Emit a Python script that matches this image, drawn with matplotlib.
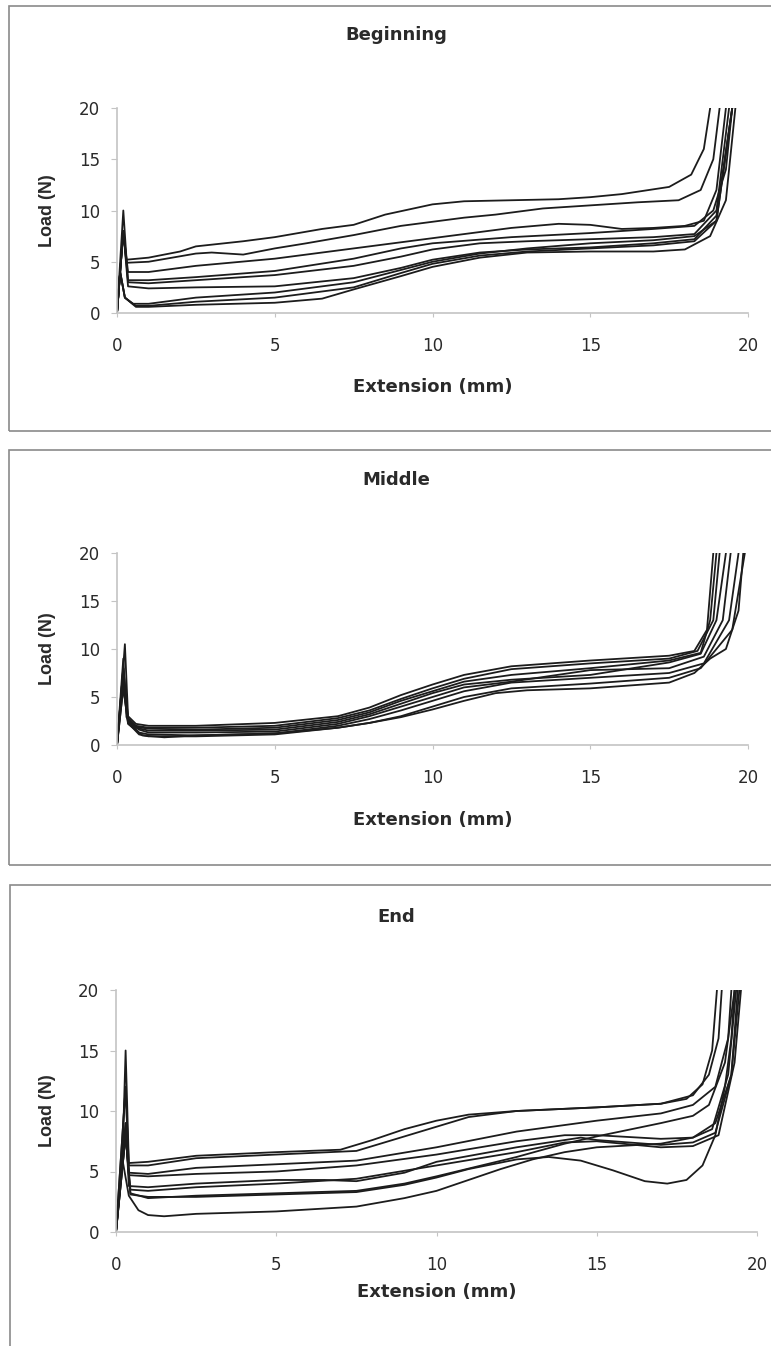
import matplotlib
matplotlib.use('Agg')
import matplotlib.pyplot as plt
from matplotlib.patches import Rectangle

plt.rcParams['font.family'] = ['DejaVu Sans']

# ---- Beginning: load (N) vs extension (mm), one test per curve ----
b1_x = [0, 0.2, 0.3, 1, 2, 2.5, 4, 5, 6.5, 7.5, 8.5, 10, 11, 12.5, 14, 15, 16, 17.5, 18.2, 18.6, 18.8]
b1_y = [0, 8, 5.2, 5.4, 6.0, 6.5, 7.0, 7.4, 8.2, 8.6, 9.6, 10.6, 10.9, 11.0, 11.1, 11.3, 11.6, 12.3, 13.5, 16, 20]
b2_x = [0, 0.2, 0.3, 1, 2.5, 3, 4, 5, 6, 7.5, 9, 10, 11, 12, 13.5, 15, 16.5, 17.8, 18.5, 18.9, 19.1]
b2_y = [0, 8, 4.9, 5.0, 5.8, 5.9, 5.7, 6.3, 6.8, 7.6, 8.5, 8.9, 9.3, 9.6, 10.2, 10.5, 10.8, 11.0, 12, 15, 20]
b3_x = [0, 0.2, 0.35, 1, 2.5, 5, 7.5, 10, 11, 12.5, 14, 15, 16, 17, 18, 18.6, 19, 19.3]
b3_y = [0, 8, 4.0, 4.0, 4.6, 5.3, 6.3, 7.3, 7.7, 8.3, 8.7, 8.6, 8.2, 8.3, 8.5, 9, 12, 20]
b4_x = [0, 0.2, 0.35, 1, 2.5, 5, 7.5, 9, 10, 12.5, 15, 17, 18.3, 18.9, 19.3, 19.5]
b4_y = [0, 8, 3.2, 3.2, 3.5, 4.1, 5.3, 6.3, 6.8, 7.4, 7.8, 8.2, 8.5, 10, 14, 20]
b5_x = [0, 0.2, 0.35, 1, 2.5, 5, 7.5, 9, 10, 11.5, 13, 15, 17, 18.3, 19, 19.4]
b5_y = [0, 10, 3.0, 2.9, 3.2, 3.7, 4.6, 5.5, 6.2, 6.8, 7.0, 7.2, 7.4, 7.7, 10, 20]
b6_x = [0, 0.2, 0.35, 1, 2.5, 5, 7.5, 9, 10, 11.5, 13, 15, 17, 18.3, 19, 19.5]
b6_y = [0, 8, 2.6, 2.4, 2.5, 2.6, 3.4, 4.4, 5.2, 5.9, 6.2, 6.4, 6.8, 7.2, 9.5, 20]
b7_x = [0, 0.1, 0.25, 0.5, 1, 2.5, 5, 7.5, 9, 10, 11.5, 13, 15, 17, 18.3, 19, 19.5]
b7_y = [0, 4, 1.5, 0.9, 0.9, 1.5, 2.0, 3.0, 4.2, 5.0, 5.8, 6.3, 6.8, 7.1, 7.5, 9, 20]
b8_x = [0, 0.1, 0.25, 0.6, 1, 2.5, 5, 6.5, 7.5, 9, 10, 11.5, 13, 15, 17, 18, 18.8, 19.3, 19.6]
b8_y = [0, 4, 1.5, 0.6, 0.6, 0.8, 1.0, 1.4, 2.3, 3.6, 4.5, 5.4, 5.9, 6.0, 6.0, 6.2, 7.5, 11, 20]
b9_x = [0, 0.1, 0.25, 0.6, 1, 2.5, 5, 7.5, 9, 10, 11.5, 13, 15, 17, 18.3, 19, 19.5]
b9_y = [0, 4, 1.5, 0.7, 0.7, 1.1, 1.5, 2.5, 3.9, 4.8, 5.6, 6.0, 6.3, 6.6, 7.0, 9, 20]

# ---- Middle ----
m1_x = [0, 0.15, 0.25, 0.35, 0.6, 1, 2.5, 5, 7, 8, 9, 10, 11, 12.5, 15, 17.5, 18.3, 18.7, 18.9]
m1_y = [0, 6, 10.5, 3, 2.2, 2.0, 2.0, 2.3, 3.0, 3.9, 5.2, 6.3, 7.3, 8.2, 8.8, 9.3, 9.8, 12, 20]
m2_x = [0, 0.2, 0.35, 0.6, 1, 2.5, 5, 7, 8, 9, 10, 11, 12.5, 15, 17.5, 18.4, 18.9, 19.1]
m2_y = [0, 8, 2.8, 2.0, 1.8, 1.8, 2.0, 2.8, 3.6, 4.8, 5.9, 6.9, 7.9, 8.5, 9.0, 9.8, 13, 20]
m3_x = [0, 0.2, 0.35, 0.6, 1, 2.5, 5, 7, 8, 9, 10, 11, 12.5, 15, 17.5, 18.5, 19.0, 19.3]
m3_y = [0, 8, 2.6, 1.8, 1.5, 1.5, 1.6, 2.4, 3.2, 4.3, 5.4, 6.3, 6.8, 7.3, 8.6, 9.5, 13, 20]
m4_x = [0, 0.2, 0.35, 0.7, 1, 2.5, 5, 7, 8, 9, 10, 11, 12.5, 15, 17.5, 18.6, 19.2, 19.45]
m4_y = [0, 7, 2.5, 1.6, 1.3, 1.3, 1.4, 2.2, 3.0, 4.0, 5.0, 6.0, 6.6, 7.8, 8.0, 9.2, 13, 20]
m5_x = [0, 0.2, 0.35, 0.7, 1, 2.5, 5, 7, 8, 9, 10, 11, 12.5, 15, 17.5, 18.6, 19.4, 19.7]
m5_y = [0, 7, 2.4, 1.3, 1.1, 1.0, 1.2, 2.0, 2.7, 3.6, 4.6, 5.6, 6.5, 7.0, 7.5, 8.5, 13, 20]
m6_x = [0, 0.2, 0.35, 0.7, 1, 2.5, 5, 7, 8, 9, 10, 11, 12.5, 15, 17.5, 18.5, 19.5, 19.9]
m6_y = [0, 6, 2.3, 1.1, 0.9, 0.9, 1.1, 1.8, 2.3, 3.0, 4.0, 5.0, 5.9, 6.4, 7.0, 8.0, 12, 20]
m7_x = [0, 0.2, 0.35, 0.8, 1.5, 2.5, 5, 7, 8, 9, 10, 11, 12, 13, 15, 17.5, 18.3, 18.8, 19.3, 19.7, 19.85]
m7_y = [0, 6, 2.2, 1.0, 0.8, 1.0, 1.2, 1.8, 2.3, 2.9, 3.7, 4.6, 5.4, 5.7, 5.9, 6.5, 7.5, 9, 10, 14, 20]
m8_x = [0, 0.2, 0.3, 0.6, 1, 2.5, 5, 7, 8, 9, 10, 11, 12.5, 15, 17.5, 18.5, 18.8, 19.0]
m8_y = [0, 9, 2.9, 1.9, 1.7, 1.6, 1.8, 2.6, 3.4, 4.6, 5.6, 6.6, 7.3, 8.0, 8.8, 9.6, 13, 20]

# ---- End ----
e1_x = [0, 0.2, 0.3, 0.4, 1, 2.5, 5, 7, 8, 9, 10, 11, 12.5, 15, 17, 17.8, 18.3, 18.6, 18.75]
e1_y = [0, 6, 15, 5.7, 5.8, 6.3, 6.6, 6.8, 7.6, 8.5, 9.2, 9.7, 10.0, 10.3, 10.6, 11.0, 12.2, 15, 20]
e2_x = [0, 0.3, 0.4, 1, 2.5, 5, 7.5, 9, 10, 11, 12.5, 15, 17, 18, 18.5, 18.8, 18.9]
e2_y = [0, 12, 5.5, 5.5, 6.1, 6.4, 6.7, 7.9, 8.7, 9.5, 10.0, 10.3, 10.6, 11.3, 13, 16, 20]
e3_x = [0, 0.3, 0.4, 1, 2.5, 5, 7.5, 10, 12.5, 15, 17, 18, 18.7, 19.1, 19.2]
e3_y = [0, 12, 4.9, 4.8, 5.3, 5.6, 5.9, 7.0, 8.3, 9.2, 9.8, 10.5, 12, 16, 20]
e4_x = [0, 0.3, 0.4, 1, 2.5, 5, 7.5, 10, 12.5, 14, 15, 17, 18, 18.6, 19.1, 19.35]
e4_y = [0, 9, 4.7, 4.6, 4.8, 5.0, 5.5, 6.4, 7.5, 8.0, 8.0, 7.7, 7.8, 8.5, 13, 20]
e5_x = [0, 0.3, 0.4, 1, 2.5, 5, 6.5, 7.5, 9, 10, 12.5, 14.5, 15, 17, 18, 18.7, 19.2, 19.4]
e5_y = [0, 9, 3.8, 3.7, 4.0, 4.3, 4.3, 4.2, 4.9, 5.8, 7.0, 7.8, 7.6, 7.2, 7.4, 8.2, 13, 20]
e6_x = [0, 0.3, 0.45, 1, 2.5, 5, 7.5, 10, 12.5, 14, 15, 17, 18, 18.8, 19.3, 19.5]
e6_y = [0, 8, 3.5, 3.4, 3.7, 4.0, 4.4, 5.5, 6.6, 7.4, 7.5, 7.0, 7.1, 8, 14, 20]
e7_x = [0, 0.3, 0.45, 1, 2.5, 5, 7.5, 9, 10, 12.5, 14, 15, 17, 18, 18.5, 19, 19.3]
e7_y = [0, 8, 3.2, 2.8, 3.0, 3.2, 3.4, 4.0, 4.6, 6.2, 7.3, 7.9, 9.0, 9.6, 10.5, 14, 20]
e8_x = [0, 0.3, 0.45, 1, 2.5, 5, 7.5, 9, 10, 11, 12.5, 13.5, 14.5, 15.5, 16.5, 17.2, 17.8, 18.3, 18.7, 19.0, 19.2, 19.3]
e8_y = [0, 8, 3.1, 2.9, 2.9, 3.1, 3.3, 3.9, 4.5, 5.2, 6.0, 6.2, 5.9, 5.1, 4.2, 4.0, 4.3, 5.5, 8, 12, 16, 20]
e9_x = [0, 0.2, 0.4, 0.7, 1, 1.5, 2.5, 5, 7.5, 9, 10, 11, 12, 13, 14, 15, 17, 18, 18.7, 19.2, 19.45]
e9_y = [0, 6, 3.0, 1.8, 1.4, 1.3, 1.5, 1.7, 2.1, 2.8, 3.4, 4.3, 5.2, 6.0, 6.6, 7.0, 7.3, 7.8, 9, 13, 20]

ticks = [0, 5, 10, 15, 20]

W, H = 771, 1346
fig = plt.figure(figsize=(W / 100, H / 100), dpi=100)


def fx(px):
    return px / W


def fy(py):
    return 1 - py / H


panels = [
    # title, curves, box (left, top, bottom), axes (left, right, top, bottom), title y, xlabel y
    ('Beginning', [(b1_x, b1_y), (b2_x, b2_y), (b3_x, b3_y), (b4_x, b4_y), (b5_x, b5_y),
                   (b6_x, b6_y), (b7_x, b7_y), (b8_x, b8_y), (b9_x, b9_y)],
     (9, 6, 431), (117, 748, 108, 313), 35, 387),
    ('Middle', [(m1_x, m1_y), (m2_x, m2_y), (m3_x, m3_y), (m4_x, m4_y),
                (m5_x, m5_y), (m6_x, m6_y), (m7_x, m7_y), (m8_x, m8_y)],
     (9, 450, 865), (117, 748, 553, 745), 480, 820),
    ('End', [(e1_x, e1_y), (e2_x, e2_y), (e3_x, e3_y), (e4_x, e4_y), (e5_x, e5_y),
             (e6_x, e6_y), (e7_x, e7_y), (e8_x, e8_y), (e9_x, e9_y)],
     (10, 885, 1360), (116, 757, 990, 1232), 917, 1292),
]

for title, curves, box, axpos, ty, xly in panels:
    bl, bt, bb = box
    fig.patches.append(Rectangle((fx(bl), fy(bb)), fx(800), (bb - bt) / H,
                                 transform=fig.transFigure, fill=False,
                                 ec='#8a8a8a', lw=1.2))
    l, r, t, b = axpos
    ax = fig.add_axes([fx(l), fy(b), fx(r - l), (b - t) / H])
    for x, y in curves:
        ax.plot(x, y, color='#1c1c1c', lw=1.3)
    ax.set_xlim(0, 20)
    ax.set_ylim(0, 20)
    ax.set_xticks(ticks)
    ax.set_yticks(ticks)
    for s in ['top', 'right']:
        ax.spines[s].set_visible(False)
    for s in ['left', 'bottom']:
        ax.spines[s].set_color('#c4c4c4')
        ax.spines[s].set_linewidth(1.2)
    ax.tick_params(colors='#c4c4c4', labelcolor='#2a2a2a', labelsize=12)
    ax.tick_params(axis='x', direction='out', length=3, pad=14)
    ax.tick_params(axis='y', direction='out', length=4, pad=8)

    fig.text(fx(396), fy(ty), title, ha='center', va='center',
             fontsize=13, fontweight='bold', color='#2a2a2a')
    fig.text(fx((l + r) / 2), fy(xly), 'Extension (mm)', ha='center', va='center',
             fontsize=13, fontweight='bold', color='#2a2a2a')
    fig.text(fx(48), fy((t + b) / 2), 'Load (N)', ha='center', va='center',
             rotation=90, fontsize=13, fontweight='bold', color='#2a2a2a',
             family='Liberation Sans')

fig.savefig('out.png', dpi=100, facecolor='white')
